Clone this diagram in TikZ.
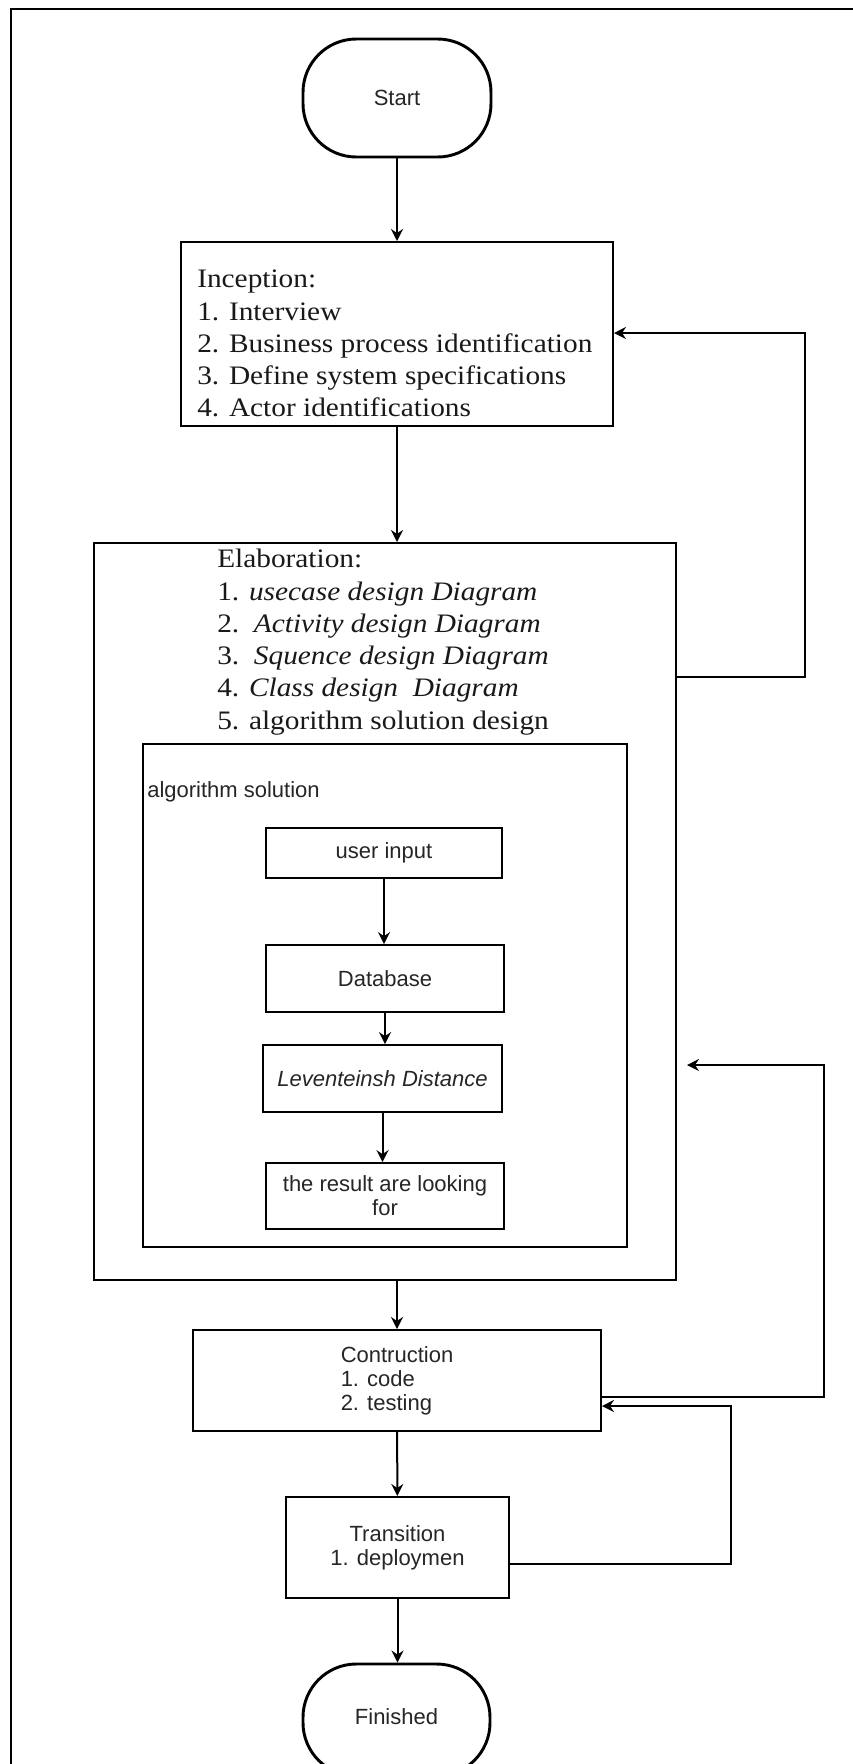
\documentclass[tikz,border=0pt]{standalone}
\usepackage{fontspec}
\setmainfont{Liberation Sans}
\newfontfamily\serifst[FakeStretch=1.1]{Liberation Serif}
\usetikzlibrary{arrows.meta}
\begin{document}
\begin{tikzpicture}[x=0.75pt,y=-0.75pt,
  box/.style={draw, line width=1.5pt, inner sep=0pt},
  inbox/.style={draw, line width=1.3pt, inner sep=0pt},
  term/.style={draw, line width=2.2pt, rounded corners=40pt, inner sep=0pt},
  lbl/.style={font=\fontsize{16.5}{18}\selectfont, align=center, text=black!85},
  sertext/.style={font=\serifst\fontsize{20}{24.2}\selectfont, align=left, inner sep=0pt, anchor=north west, text=black!90},
  arr/.style={line width=1.5pt, -{Stealth[length=9pt,width=9pt,inset=3pt]}},
]
\clip (0,0) rectangle (853,1764);
\fill[white] (0,0) rectangle (853,1764);
% frame
\draw[line width=2.2pt] (11,1800) -- (11,9) -- (900,9);

% main column
\node[term, lbl, minimum width=141pt, minimum height=88.5pt] (start) at (397,98) {Start};
\node[box, minimum width=324pt, minimum height=138pt] (inc) at (397,334) {};
\node[sertext] (inctext) at (197,270) {Inception:\\1. Interview\\2. Business process identification\\3. Define system specifications\\4. Actor identifications};

\node[box, minimum width=436.5pt, minimum height=552.75pt] (elab) at (385,911.5) {};
\node[sertext] (elabtext) at (217,549) {Elaboration:\\1. \textit{usecase design Diagram}\\2.\ \ \textit{Activity design Diagram}\\3.\ \ \textit{Squence design Diagram}\\4. \textit{Class design\ \ Diagram}\\5. algorithm solution design};

\node[inbox, minimum width=363pt, minimum height=377.25pt] (alg) at (385,995.5) {};
\node[lbl, anchor=base west, inner sep=0pt] (algtext) at (147,797) {algorithm solution};
\node[inbox, lbl, minimum width=177pt, minimum height=37.5pt] (ui) at (384,853) {user input};
\node[inbox, lbl, minimum width=178.5pt, minimum height=50.25pt] (db) at (385,978.5) {Database};
\node[inbox, lbl, minimum width=179.25pt, minimum height=50.25pt] (lev) at (382.5,1078.5) {\itshape Leventeinsh Distance};
\node[inbox, lbl, minimum width=178.5pt, minimum height=49.5pt] (res) at (385,1196) {the result are looking\\for};

\node[box, minimum width=306pt, minimum height=75.75pt] (con) at (397,1380.5) {};
\node[lbl, align=left, inner sep=0pt] (context) at (397,1381) {Contruction\\1. code\\2. testing};
\node[box, lbl, minimum width=167.25pt, minimum height=75.75pt] (tr) at (397.5,1547.5) {Transition\\1. deploymen};
\node[term, lbl, minimum width=140.25pt, minimum height=84pt] (fin) at (396.5,1720) {\raisebox{4.5pt}{Finished}};

% main arrows
\draw[arr] (start) -- (inc);
\draw[arr] (inc.south) -- (inc.south |- elab.north);
\draw[arr] (elab.south -| con.north) -- (con.north);
\draw[arr] (con) -- (tr);
\draw[arr] (tr.south) -- (tr.south |- fin.north);

% inner arrows
\draw[arr] (ui.south) -- (ui.south |- db.north);
\draw[arr] (db.south) -- (db.south |- lev.north);
\draw[arr] (lev.south) -- (lev.south |- res.north);

% feedback arrows
\draw[arr] (elab.east |- 0,677) -- (805,677) -- (805,333) -- (inc.east |- 0,333);
\coordinate (fb2) at (687,1065);
\draw[arr] (con.east |- 0,1397) -- (824,1397) -- (824,1065) -- (fb2);
\draw[arr] (tr.east |- 0,1564) -- (731,1564) -- (731,1406) -- (con.east |- 0,1406);
\end{tikzpicture}
\end{document}
